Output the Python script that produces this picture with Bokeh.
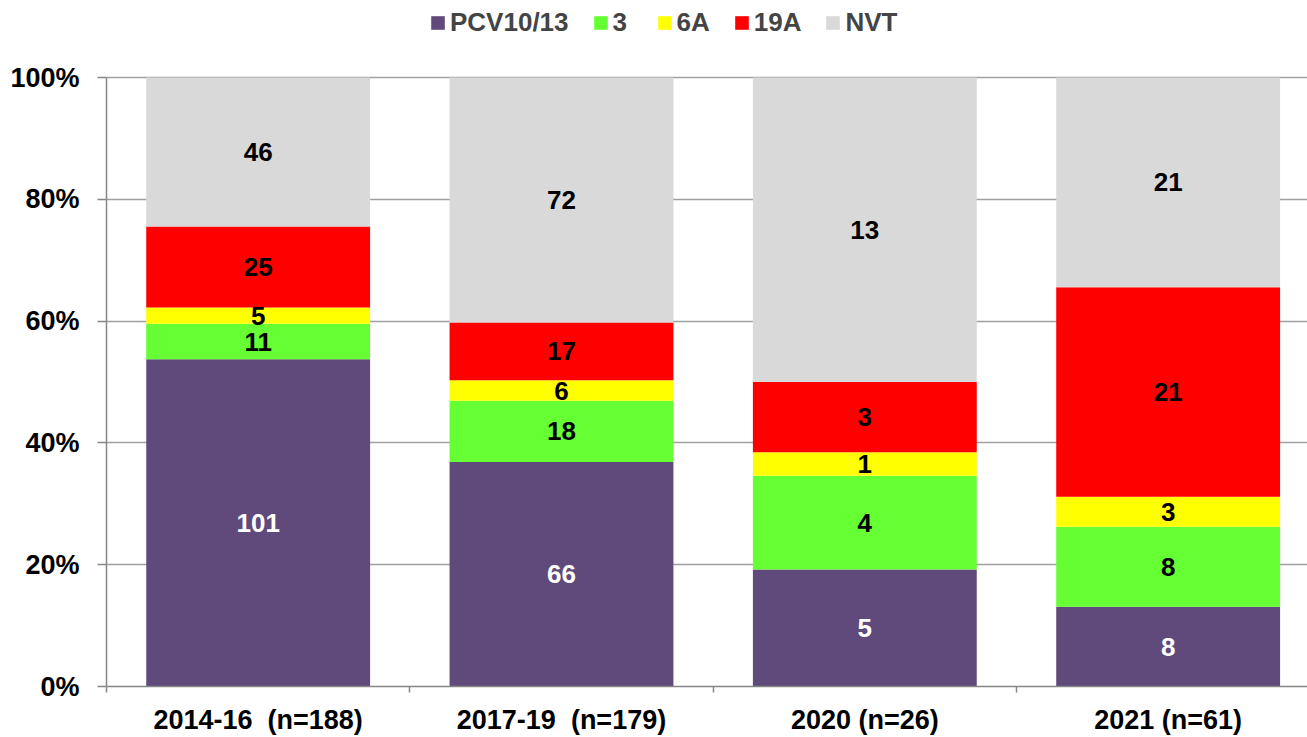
from bokeh.plotting import figure
from bokeh.models import (ColumnDataSource, Range1d, FixedTicker, NumeralTickFormatter,
                          Legend, LegendItem)
from bokeh.core.properties import value
from bokeh.embed import file_html
from bokeh.resources import INLINE

categories = ["2014-16\u00a0 (n=188)", "2017-19\u00a0 (n=179)", "2020 (n=26)", "2021 (n=61)"]
series = ["PCV10/13", "3", "6A", "19A", "NVT"]
pcv = [101, 66, 5, 8]
s3 = [11, 18, 4, 8]
s6a = [5, 6, 1, 3]
s19a = [25, 17, 3, 21]
nvt = [46, 72, 13, 21]
colors = ["#604A7B", "#66FF33", "#FFFF00", "#FF0000", "#D9D9D9"]
label_colors = ["white", "black", "black", "black", "black"]

counts = [pcv, s3, s6a, s19a, nvt]
totals = [sum(c[i] for c in counts) for i in range(len(categories))]
xs = [i + 0.5 for i in range(len(categories))]

data = {"x": xs}
for name, c in zip(series, counts):
    data[name] = [v / t for v, t in zip(c, totals)]
src = ColumnDataSource(data)

FONT = "Liberation Sans"
p = figure(width=1307, height=737, output_backend="svg", toolbar_location=None,
           x_range=Range1d(0, (1307 - 106) / 303.33), y_range=Range1d(0, 686 / 609),
           min_border_left=106, min_border_top=0, min_border_bottom=51, min_border_right=0)
p.outline_line_color = None
p.background_fill_color = "white"

renderers = p.vbar_stack(series, x="x", width=0.738, color=colors, source=src, line_color=None)

# labels
lx, ly, lt, lc = [], [], [], []
for i in range(len(categories)):
    base = 0.0
    for k, c in enumerate(counts):
        frac = c[i] / totals[i]
        lx.append(xs[i]); ly.append(base + frac / 2); lt.append(str(c[i])); lc.append(label_colors[k])
        base += frac
lsrc = ColumnDataSource(dict(x=lx, y=ly, t=lt, c=lc))
p.text(x="x", y="y", text="t", source=lsrc, text_color="c", text_align="center",
       text_baseline="middle", text_font=value(FONT), text_font_size="26px",
       text_font_style="bold")

# grid
p.xgrid.grid_line_color = None
p.ygrid.grid_line_color = "#A0A0A0"
p.ygrid.grid_line_width = 1.5
p.ygrid.level = "underlay"

# y axis
p.yaxis.ticker = FixedTicker(ticks=[0, 0.2, 0.4, 0.6, 0.8, 1.0])
p.yaxis.formatter = NumeralTickFormatter(format="0%")
p.yaxis.bounds = (0, 1)
p.yaxis.axis_line_color = "#868686"
p.yaxis.axis_line_width = 1.5
p.yaxis.major_tick_line_color = "#868686"
p.yaxis.major_tick_line_width = 1.5
p.yaxis.major_tick_out = 9
p.yaxis.major_tick_in = 0
p.yaxis.minor_tick_line_color = None
p.yaxis.major_label_standoff = 18
p.yaxis.major_label_text_font = FONT
p.yaxis.major_label_text_font_size = "27px"
p.yaxis.major_label_text_font_style = "bold"
p.yaxis.major_label_text_color = "black"

# x axis
p.xaxis.ticker = FixedTicker(ticks=xs, minor_ticks=[0, 1, 2, 3])
p.xaxis.major_label_overrides = {x: c for x, c in zip(xs, categories)}
p.xaxis.axis_line_color = "#868686"
p.xaxis.axis_line_width = 1.5
p.xaxis.major_tick_line_color = None
p.xaxis.major_tick_out = 0
p.xaxis.major_tick_in = 0
p.xaxis.minor_tick_line_color = "#868686"
p.xaxis.minor_tick_line_width = 1.5
p.xaxis.minor_tick_out = 6
p.xaxis.minor_tick_in = 0
p.xaxis.major_label_standoff = 12
p.xaxis.major_label_text_font = FONT
p.xaxis.major_label_text_font_size = "27px"
p.xaxis.major_label_text_font_style = "bold"
p.xaxis.major_label_text_color = "black"

legend = Legend(items=[LegendItem(label=s, renderers=[r]) for s, r in zip(series, renderers)],
                orientation="horizontal", location=(323, 648),
                padding=0, margin=0, spacing=23, label_standoff=4,
                glyph_width=17, glyph_height=17,
                label_text_font=FONT, label_text_font_size="26px", label_text_font_style="bold",
                border_line_color=None, background_fill_alpha=0)
p.add_layout(legend, "center")

open("out.html", "w").write(file_html(p, INLINE))
